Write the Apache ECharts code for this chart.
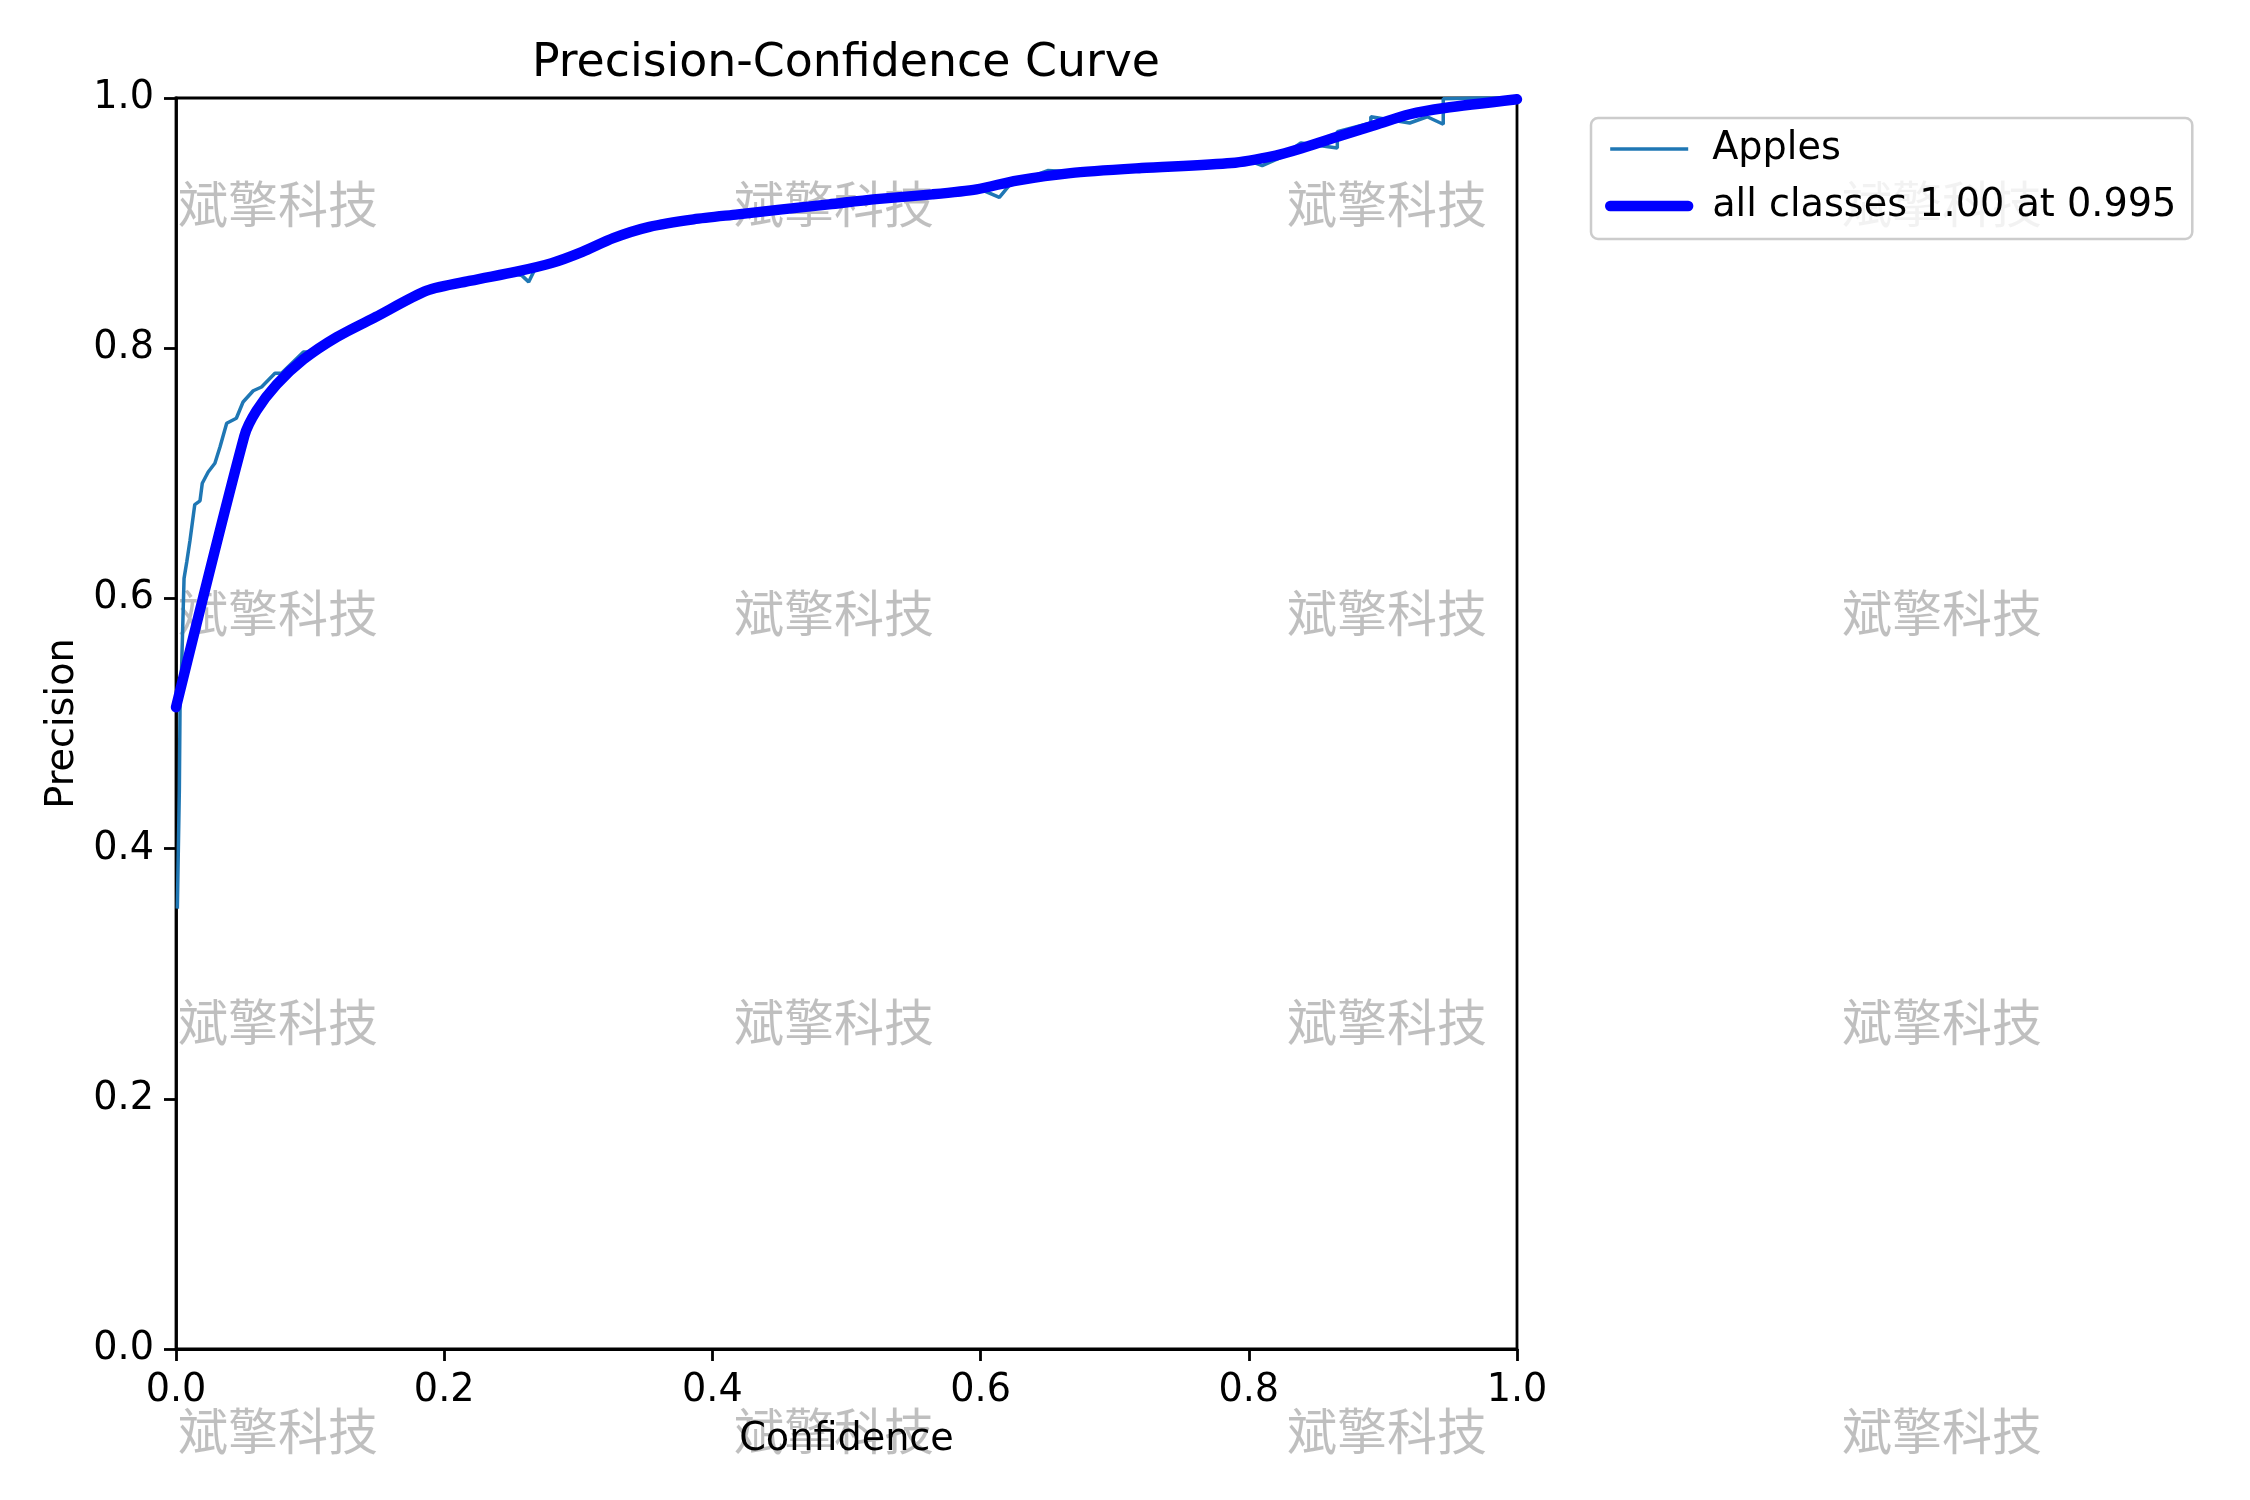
<!DOCTYPE html>
<html>
<head>
<meta charset="utf-8">
<script src="https://cdn.jsdelivr.net/npm/echarts@6/dist/echarts.min.js"></script>
<style>
html, body { margin: 0; padding: 0; background: #fff; }
#chart { width: 2250px; height: 1500px; }
</style>
</head>
<body>
<div id="chart"></div>
<script>
// Apples per-class curve (confidence, precision)
var applesConf = [0.001, 0.0025, 0.003, 0.0042, 0.006, 0.008, 0.0104, 0.014, 0.0179, 0.0196, 0.024, 0.029, 0.0328, 0.0378, 0.045, 0.050, 0.0576, 0.0638, 0.0738, 0.0787, 0.095, 0.10,
    0.12, 0.149, 0.152, 0.187, 0.22, 0.25, 0.258, 0.263, 0.268, 0.28, 0.303, 0.326, 0.353, 0.36, 0.386, 0.419, 0.452, 0.487, 0.52, 0.564, 0.60, 0.614, 0.622, 0.65, 0.667, 0.72,
    0.787, 0.805, 0.81, 0.8227, 0.8388, 0.866, 0.866, 0.891, 0.891, 0.920, 0.933, 0.945, 0.945, 0.97, 1.0];
var applesPrec = [0.352, 0.447, 0.512, 0.545, 0.616, 0.629, 0.646, 0.675, 0.678, 0.692, 0.701, 0.708, 0.721, 0.740, 0.744, 0.757, 0.766, 0.769, 0.780, 0.780, 0.797, 0.797,
    0.810, 0.827, 0.829, 0.845, 0.854, 0.860, 0.858, 0.853, 0.864, 0.869, 0.879, 0.890, 0.898, 0.901, 0.903, 0.907, 0.911, 0.915, 0.919, 0.923, 0.927, 0.9205, 0.931, 0.942, 0.941, 0.944,
    0.948, 0.948, 0.946, 0.952, 0.964, 0.960, 0.973, 0.980, 0.985, 0.980, 0.985, 0.979, 0.9995, 1.0, 1.0];

// all classes mean curve
var allConf = [0.0, 0.051, 0.060, 0.075, 0.095, 0.120, 0.149, 0.187, 0.220, 0.253, 0.280, 0.303, 0.326, 0.353, 0.386, 0.419, 0.452, 0.487, 0.52, 0.564, 0.597, 0.627, 0.667, 0.720, 0.787, 0.820, 0.837, 0.863, 0.893, 0.920, 0.946, 1.0];
var allPrec = [0.513, 0.730, 0.750, 0.771, 0.791, 0.809, 0.825, 0.846, 0.854, 0.861, 0.868, 0.877, 0.888, 0.897, 0.903, 0.907, 0.911, 0.915, 0.919, 0.923, 0.927, 0.934, 0.940, 0.944, 0.948, 0.954, 0.959, 0.968, 0.978, 0.987, 0.992, 0.999];

var seriesNames = ['Apples', 'all classes 1.00 at 0.995'];
var watermarkText = '斌擎科技';
var watermarkX = [278, 834, 1387, 1942];
var watermarkY = [204, 613, 1022, 1431];

var zip = function (xs, ys) {
    var res = [];
    for (var i = 0; i < xs.length; i++) {
        res.push([xs[i], ys[i]]);
    }
    return res;
};

var marks = [];
for (var i = 0; i < watermarkY.length; i++) {
    for (var j = 0; j < watermarkX.length; j++) {
        marks.push({
            type: 'text',
            x: watermarkX[j],
            y: watermarkY[i],
            z: 0,
            style: {
                text: watermarkText,
                font: '50px "Noto Sans CJK SC"',
                fill: 'rgba(0,0,0,0.25)',
                textAlign: 'center',
                textVerticalAlign: 'middle'
            }
        });
    }
}

var font = 'DejaVu Sans';
var fs = 38.2;
var myChart = echarts.init(document.getElementById('chart'));

var option = {
    backgroundColor: '#ffffff',
    animation: false,
    title: {
        text: 'Precision-Confidence Curve',
        left: 846,
        top: 41,
        textAlign: 'center',
        padding: 0,
        textStyle: { fontFamily: font, fontSize: 45.8, fontWeight: 'normal', color: '#000' }
    },
    grid: {
        left: 176, right: 733, top: 98, bottom: 151,
        show: true,
        borderColor: '#000',
        borderWidth: 2.8,
        backgroundColor: 'transparent'
    },
    legend: {
        orient: 'vertical',
        left: 1591,
        top: 118,
        padding: [12, 16, 14, 14],
        itemWidth: 78,
        itemHeight: 35,
        itemGap: 19,
        borderColor: '#cccccc',
        borderWidth: 2.5,
        borderRadius: 7,
        backgroundColor: 'rgba(255,255,255,0.8)',
        itemStyle: { color: 'rgba(0,0,0,0)', borderWidth: 0, opacity: 0 },
        textStyle: { fontFamily: font, fontSize: fs, color: '#000', padding: [0, 0, 0, 19] },
        data: [
            { name: seriesNames[0], lineStyle: { color: '#1f77b4', width: 3.5 } },
            { name: seriesNames[1], lineStyle: { color: '#0000ff', width: 10.4 } }
        ]
    },
    xAxis: {
        type: 'value',
        min: 0, max: 1, interval: 0.2,
        name: 'Confidence',
        nameLocation: 'middle',
        nameGap: 72,
        nameTextStyle: { fontFamily: font, fontSize: fs, color: '#000' },
        axisLine: { show: true, lineStyle: { color: '#000', width: 2.8 } },
        axisTick: { show: true, inside: false, length: 12, lineStyle: { color: '#000', width: 2.8 } },
        axisLabel: {
            margin: 23, fontFamily: font, fontSize: fs, color: '#000',
            formatter: function (v) { return v.toFixed(1); }
        },
        splitLine: { show: false }
    },
    yAxis: {
        type: 'value',
        min: 0, max: 1, interval: 0.2,
        name: 'Precision',
        nameLocation: 'middle',
        nameGap: 93,
        nameTextStyle: { fontFamily: font, fontSize: fs, color: '#000' },
        axisLine: { show: true, lineStyle: { color: '#000', width: 2.8 } },
        axisTick: { show: true, inside: false, length: 12, lineStyle: { color: '#000', width: 2.8 } },
        axisLabel: {
            margin: 22, fontFamily: font, fontSize: fs, color: '#000',
            formatter: function (v) { return v.toFixed(1); }
        },
        splitLine: { show: false }
    },
    graphic: marks,
    series: [
        {
            name: seriesNames[0],
            type: 'line',
            data: zip(applesConf, applesPrec),
            showSymbol: false,
            symbol: 'none',
            lineStyle: { color: '#1f77b4', width: 3.5 },
            itemStyle: { color: '#1f77b4' },
            z: 3
        },
        {
            name: seriesNames[1],
            type: 'line',
            data: zip(allConf, allPrec),
            showSymbol: false,
            symbol: 'none',
            smooth: 0.25,
            lineStyle: { color: '#0000ff', width: 10.4, join: 'round', cap: 'round' },
            itemStyle: { color: '#0000ff' },
            z: 4
        }
    ]
};
myChart.setOption(option);
</script>
</body>
</html>
